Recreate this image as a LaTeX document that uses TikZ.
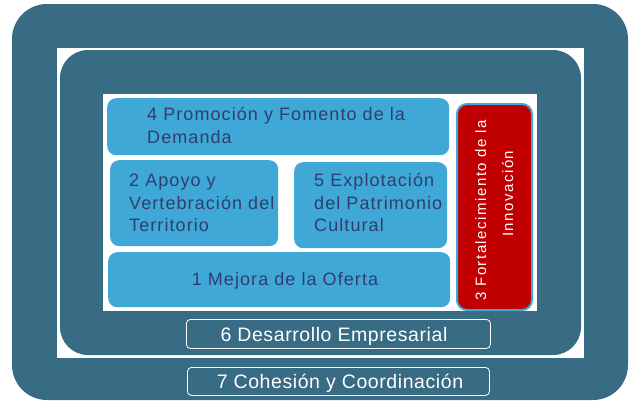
\documentclass[tikz,border=0pt]{standalone}
\usepackage{fontspec}
\setmainfont{Liberation Sans}
\newfontfamily\bfam[LetterSpace=6]{Liberation Sans}
\newfontfamily\wfam[LetterSpace=3]{Liberation Sans}
\newfontfamily\rfam[LetterSpace=10]{Liberation Sans}
\definecolor{darkteal}{HTML}{386C85}
\definecolor{lblue}{HTML}{3FA8D7}
\definecolor{navy}{HTML}{2F3E6E}
\definecolor{redbox}{HTML}{C00000}
\begin{document}
\begin{tikzpicture}[x=1pt,y=-1pt,
  bluebox/.style={fill=lblue, rounded corners=9pt, anchor=north west, inner sep=0},
  btext/.style={text=navy, font=\bfam\fontsize{18}{22.5}\selectfont, inner sep=0},
  outline/.style={draw=white, line width=0.8pt, rounded corners=4pt, anchor=north west, inner sep=0},
  wtext/.style={text=white, font=\wfam\fontsize{19.5}{23}\selectfont, inner sep=0, anchor=base},
  rtext/.style={text=white, font=\rfam\fontsize{15}{18}\selectfont, inner sep=0, anchor=base west, rotate=90}]
\useasboundingbox (0,0) rectangle (629,400);
\fill[white] (0,0) rectangle (629,400);
\fill[darkteal, rounded corners=35pt] (12,4) rectangle (628,400);
\fill[white] (57,48) rectangle (584,358);
\fill[darkteal, rounded corners=28pt] (60,50) rectangle (581,355);
\fill[white] (103,94) rectangle (537,311);
% blue boxes
\node[bluebox, minimum width=342pt, minimum height=57pt] (b4) at (107,98) {};
\node[bluebox, minimum width=168pt, minimum height=86pt] (b2) at (110,160) {};
\node[bluebox, minimum width=153pt, minimum height=86pt] (b5) at (294,162) {};
\node[bluebox, minimum width=342pt, minimum height=55pt] (b1) at (108,252) {};
\node[fill=redbox, draw=lblue, line width=2pt, rounded corners=10pt, anchor=north west, inner sep=0,
      minimum width=75pt, minimum height=206pt] (b3) at (456,103) {};
% texts
\node[btext, anchor=base west] (t4) at (147,120.7)
  {\begin{tabular}[t]{@{}l@{}}4 Promoción y Fomento de la\\Demanda\end{tabular}};
\node[btext, anchor=base west] (t2) at (129,186.7)
  {\begin{tabular}[t]{@{}l@{}}2 Apoyo y\\Vertebración del\\Territorio\end{tabular}};
\node[btext, anchor=base west] (t5) at (314,186.7)
  {\begin{tabular}[t]{@{}l@{}}5 Explotación\\del Patrimonio\\Cultural\end{tabular}};
\node[btext, anchor=base] (t1) at (285,285) {1 Mejora de la Oferta};
\node[rtext] (r1) at (486,300.7) {3 Fortalecimiento de la};
\node[rtext] (r2) at (513,237) {Innovación};
% outlined boxes
\node[outline, minimum width=304pt, minimum height=29pt] (b6) at (186,319) {};
\node[wtext] (t6) at (334,341.7) {6 Desarrollo Empresarial};
\node[outline, minimum width=302pt, minimum height=28pt] (b7) at (187,367) {};
\node[wtext] (t7) at (340,388) {7 Cohesión y Coordinación};
\end{tikzpicture}
\end{document}
